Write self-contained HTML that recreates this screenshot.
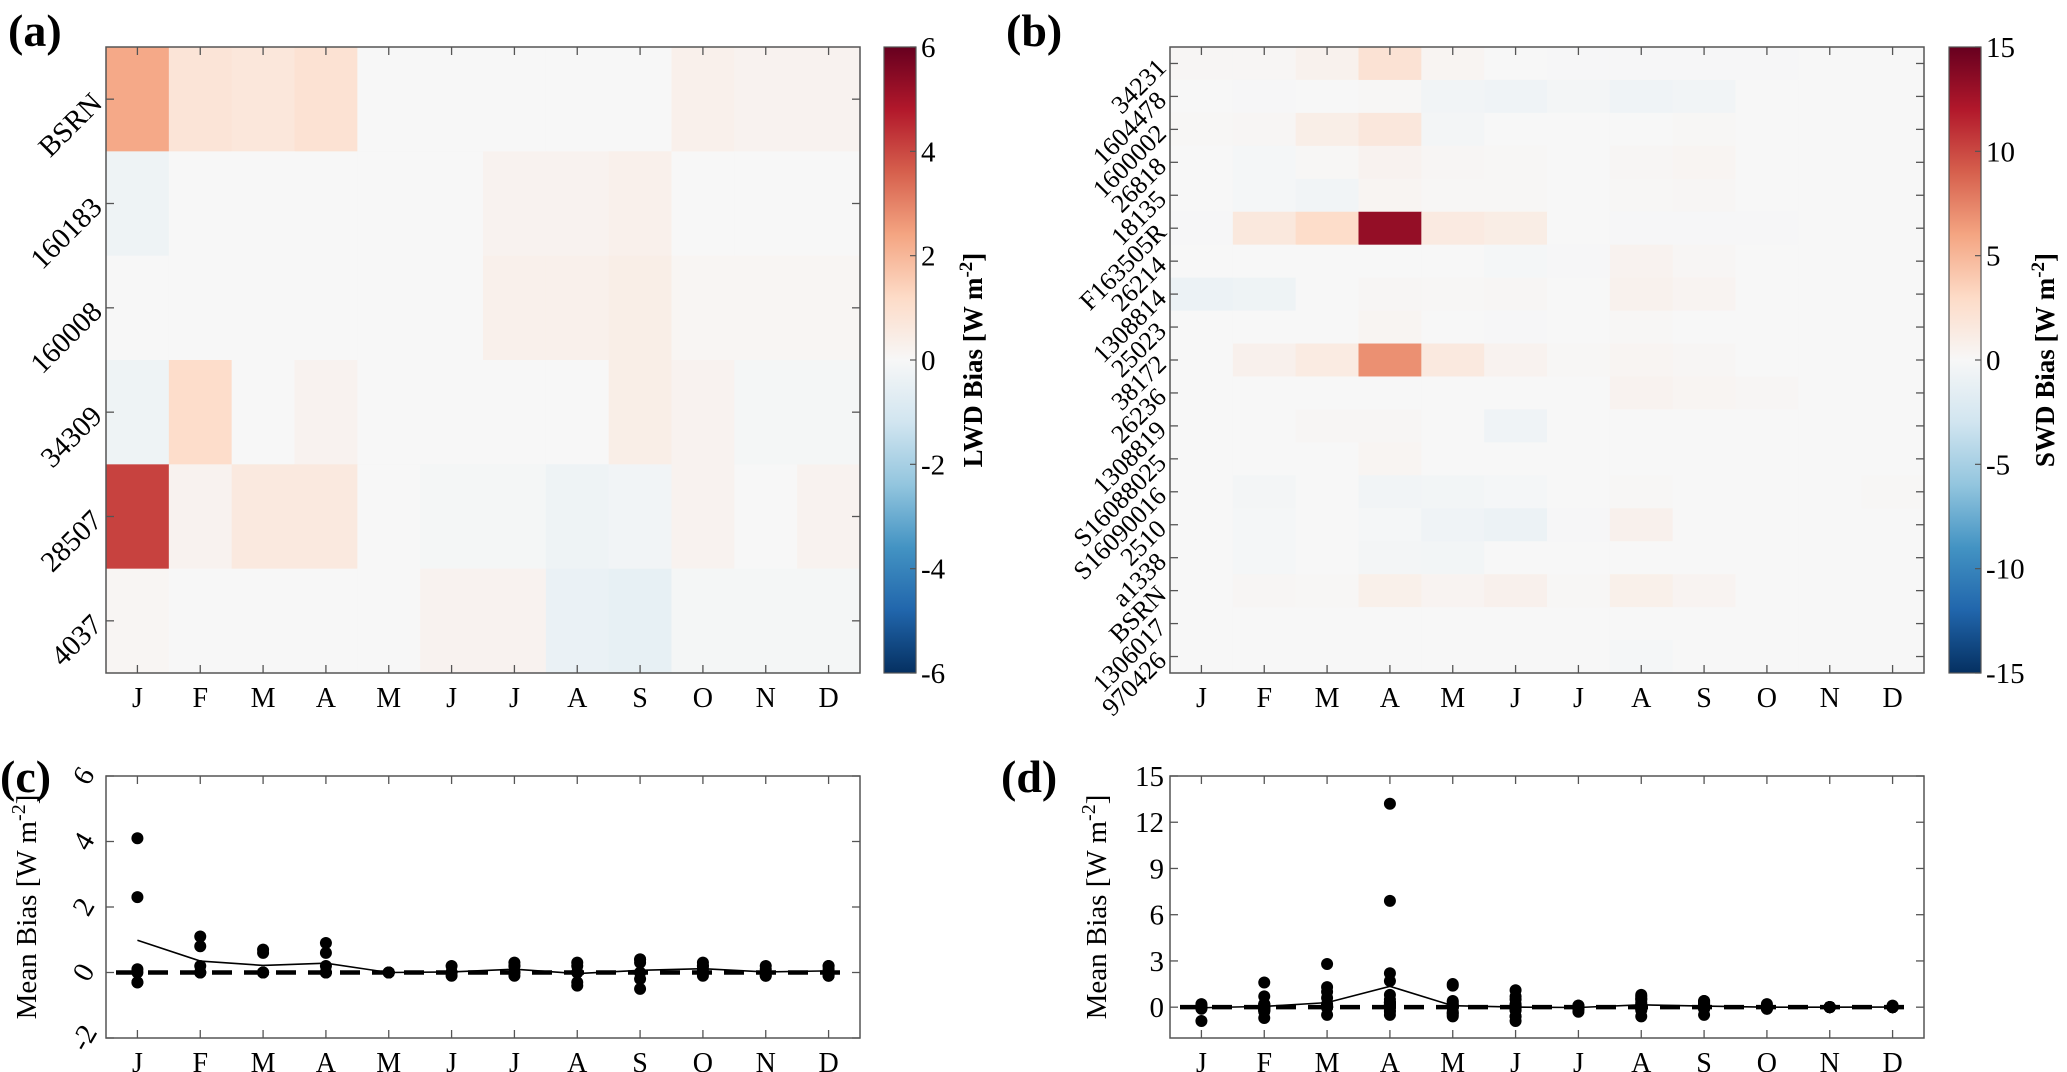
<!DOCTYPE html>
<html><head><meta charset="utf-8">
<style>
html,body{margin:0;padding:0;background:#fff;}
svg{display:block;}
svg text{font-family:"Liberation Serif","Times New Roman","DejaVu Serif",serif;}
</style></head>
<body>
<svg id="fig" width="2067" height="1072" viewBox="0 0 2067 1072" xmlns="http://www.w3.org/2000/svg" font-family="Liberation Serif, serif">
<defs>
<linearGradient id="cbgrad" x1="0" y1="1" x2="0" y2="0">
<stop offset="0" stop-color="#053061"/><stop offset="0.1" stop-color="#2166ac"/><stop offset="0.2" stop-color="#4393c3"/><stop offset="0.3" stop-color="#92c5de"/><stop offset="0.4" stop-color="#d1e5f0"/><stop offset="0.5" stop-color="#f7f7f7"/><stop offset="0.6" stop-color="#fddbc7"/><stop offset="0.7" stop-color="#f4a582"/><stop offset="0.8" stop-color="#d6604d"/><stop offset="0.9" stop-color="#b2182b"/><stop offset="1" stop-color="#67001f"/>
</linearGradient>
</defs>
</svg>
<script>
// ---- data ----
const months = ["J","F","M","A","M","J","J","A","S","O","N","D"];
const lwdStations = ["BSRN","160183","160008","34309","28507","4037"];
const lwdBias = [
 [2.3,0.8,0.7,0.9,0,0,0,0,0,0.3,0.2,0.2],
 [-0.3,0,0,0,0,0,0.2,0.2,0.3,0,0,0],
 [0,0,0,0,0,0,0.3,0.3,0.4,0.1,0.1,0.1],
 [-0.3,1.1,0,0.2,0,0,0,0,0.4,0.2,-0.1,-0.1],
 [4.1,0.2,0.6,0.6,0,-0.1,-0.1,-0.3,-0.2,0.2,0,0.2],
 [0.1,0,0,0,0,0.2,0.2,-0.4,-0.5,-0.1,-0.1,-0.1]
];
const swdStations = ["34231","1604478","1600002","26818","18135","F163505R","26214","1308814","25023","38172","26236","1308819","S16088025","S16090016","2510","a1338","BSRN","1306017","970426"];
const swdBias = [
 [0.2,0.2,0.6,2.2,0.3,0,-0.1,-0.1,-0.1,-0.1,0,0],
 [0,-0.1,0,0.1,-0.5,-0.6,-0.3,-0.6,-0.5,0,0,0],
 [0.1,0.2,1.0,1.7,-0.3,0,0,0,0.1,0,0,0],
 [0,-0.2,0.1,0.5,0.2,0.1,0,0.2,0.3,0,0,0],
 [0,-0.2,-0.5,0.3,0.1,0.1,0,0.1,0.2,0,0,0],
 [-0.1,1.6,2.8,13.2,1.4,1.1,0,-0.1,-0.1,-0.1,0,0],
 [0,0,0,0,0,-0.2,-0.1,0.5,0.2,0,0,0],
 [-0.9,-0.7,0,0.2,0.1,0.2,0,0.6,0.4,0,0,0],
 [0,0,0,0.3,0,-0.1,0,0.1,0,0,0,0],
 [0,0.7,1.3,6.9,1.5,0.5,0.1,0.3,0.2,0,0,0],
 [0,0,0,0,0,0,0,0.5,0.3,0.2,0,0],
 [0,0,0.2,0.2,0,-0.6,0,0,0,0,0,0],
 [0,0,0,0.3,0,0,0,0,0,0,0,0],
 [0,-0.3,0,-0.5,-0.4,-0.2,0,0.1,0,0,0,0.1],
 [0,-0.2,0,-0.2,-0.6,-0.9,-0.1,0.7,0,0,0,0],
 [0,-0.2,0,-0.3,-0.4,0,0,0,0,0,0,0],
 [0,0.2,0.1,0.8,0.4,0.7,0.1,0.8,0.4,0,0,0],
 [0,0,0,0,0,0,0,0,0,0,0,0],
 [0,0,0,0,0,0,0,-0.2,0,0,0,0]
];
const lwdCbTicks = [-6,-4,-2,0,2,4,6];
const swdCbTicks = [-15,-10,-5,0,5,10,15];
const cTicks = [-2,0,2,4,6];
const dTicks = [0,3,6,9,12,15];

// ---- helpers ----
const NS="http://www.w3.org/2000/svg";
const svg=document.getElementById('fig');
const FONT='"Liberation Serif","Times New Roman","DejaVu Serif",serif';
function mk(tag,attrs,parent,text){const e=document.createElementNS(NS,tag);for(const k in attrs)e.setAttribute(k,attrs[k]);if(tag==='text')e.style.fontFamily=FONT;if(text!==undefined)e.textContent=text;(parent||svg).appendChild(e);return e;}
const ramp=["#053061","#2166ac","#4393c3","#92c5de","#d1e5f0","#f7f7f7","#fddbc7","#f4a582","#d6604d","#b2182b","#67001f"];
function hex(h){return [parseInt(h.substr(1,2),16),parseInt(h.substr(3,2),16),parseInt(h.substr(5,2),16)];}
function cmap(v,max){let t=(v+max)/(2*max);t=Math.max(0,Math.min(1,t))*10;const i=Math.min(9,Math.floor(t));const f=t-i;const a=hex(ramp[i]),b=hex(ramp[i+1]);return `rgb(${a.map((x,k)=>Math.round(x+(b[k]-x)*f)).join(',')})`;}

function panelLabel(txt,x,y,name){const t=mk('text',{x:x,y:y,'font-size':46,'font-weight':'bold'},svg,txt);}

function heatmap(opt){
 const g=mk('g',{});
 
 
 const L=opt.L,R=opt.R,T=47,B=673;
 const nr=opt.rows.length,nc=months.length;
 const cw=(R-L)/nc,rh=(B-T)/nr;
 const xs=c=>L+c*cw, ys=r=>T+r*rh;
 opt.data.forEach((row,r)=>row.forEach((v,c)=>{
  const cell=mk('rect',{x:xs(c),y:ys(r),width:cw+0.5,height:rh+0.5,fill:cmap(v,opt.max)},g);
  
  
 }));
 mk('rect',{x:L,y:T,width:R-L,height:B-T,fill:'none',stroke:'#555','stroke-width':1.5},g);
 months.forEach((m,c)=>{const x=xs(c)+cw/2;
  mk('line',{x1:x,y1:B,x2:x,y2:B-8,stroke:'#555','stroke-width':1.3},g);
  mk('line',{x1:x,y1:T,x2:x,y2:T+8,stroke:'#555','stroke-width':1.3},g);
  const t=mk('text',{x:x,y:B+34,'font-size':28,'text-anchor':'middle'},g,m);
  
  
 });
 opt.rows.forEach((s,r)=>{const y=ys(r)+rh/2;
  mk('line',{x1:L,y1:y,x2:L+8,y2:y,stroke:'#555','stroke-width':1.3},g);
  mk('line',{x1:R,y1:y,x2:R-8,y2:y,stroke:'#555','stroke-width':1.3},g);
  const t=mk('text',{x:L-8,y:y+8,'font-size':opt.fs,'text-anchor':'end',transform:`rotate(-45 ${L-8} ${y})`},g,s);
  
  
 });
 const cx=opt.cbx,cwid=32;
 const cb=mk('rect',{x:cx,y:T,width:cwid,height:B-T,fill:'url(#cbgrad)',stroke:'#555','stroke-width':1.2},g);
 
 
 opt.cbTicks.forEach(v=>{const y=B-(v+opt.max)/(2*opt.max)*(B-T);
  mk('line',{x1:cx+cwid-6,y1:y,x2:cx+cwid,y2:y,stroke:'#555','stroke-width':1.2},g);
  const t=mk('text',{x:cx+cwid+5,y:y+10,'font-size':29},g,String(v));
  
  
 });
 const lx=opt.cblx,ly=(T+B)/2;
 const lab=mk('text',{x:lx,y:ly,'font-size':27,'font-weight':'bold','text-anchor':'middle',transform:`rotate(-90 ${lx} ${ly})`},g);
 
 
 mk('tspan',{},lab,opt.title+' Bias [W m');
 mk('tspan',{dy:-10,'font-size':19},lab,'-2');
 mk('tspan',{dy:10},lab,']');
}

function scatter(opt){
 const g=mk('g',{});
 
 
 const L=opt.L,R=opt.R,T=776,B=1038;
 const cw=(R-L)/12;
 const xs=c=>L+c*cw+cw/2;
 const ys=v=>B-(v-opt.ymin)/(opt.ymax-opt.ymin)*(B-T);
 mk('rect',{x:L,y:T,width:R-L,height:B-T,fill:'#fff',stroke:'#555','stroke-width':1.5},g);
 months.forEach((m,c)=>{const x=xs(c);
  mk('line',{x1:x,y1:B,x2:x,y2:B-8,stroke:'#555','stroke-width':1.3},g);
  mk('line',{x1:x,y1:T,x2:x,y2:T+8,stroke:'#555','stroke-width':1.3},g);
  const t=mk('text',{x:x,y:B+34,'font-size':28,'text-anchor':'middle'},g,m);
  
  
 });
 opt.ticks.forEach(v=>{const y=ys(v);
  mk('line',{x1:L,y1:y,x2:L+8,y2:y,stroke:'#555','stroke-width':1.3},g);
  mk('line',{x1:R,y1:y,x2:R-8,y2:y,stroke:'#555','stroke-width':1.3},g);
  const attrs={x:L-6,y:y+10,'font-size':29,'text-anchor':'end'};
  if(opt.rotTicks){attrs.y=y;attrs['text-anchor']='middle';attrs.x=L-22;attrs.transform=`rotate(-60 ${L-22} ${y})`;attrs['dominant-baseline']='central';}
  const t=mk('text',attrs,g,String(v));
  
  
 });
 const z=mk('line',{x1:L+10,y1:ys(0),x2:R-10,y2:ys(0),stroke:'#000','stroke-width':4.5,'stroke-dasharray':'20 12'},g);
 
 
 const means=months.map((m,c)=>opt.data.reduce((s,r)=>s+r[c],0)/opt.data.length);
 const ml=mk('polyline',{points:means.map((v,c)=>xs(c)+','+ys(v)).join(' '),fill:'none',stroke:'#000','stroke-width':1.6},g);
 
 
 opt.data.forEach(row=>row.forEach((v,c)=>{
  const d=mk('circle',{cx:xs(c),cy:ys(v),r:6,fill:'#000'},g);
  
  
 }));
 const lx=opt.ylx,ly=(T+B)/2;
 const lab=mk('text',{x:lx,y:ly,'font-size':29,'text-anchor':'middle',transform:`rotate(-90 ${lx} ${ly})`},g);
 
 
 mk('tspan',{},lab,'Mean Bias [W m');
 mk('tspan',{dy:-11,'font-size':20},lab,'-2');
 mk('tspan',{dy:11},lab,']');
}

panelLabel('(a)',8,46,'panel-label-a');
panelLabel('(b)',1006,46,'panel-label-b');
panelLabel('(c)',0,792,'panel-label-c');
panelLabel('(d)',1001,792,'panel-label-d');

heatmap({name:'lwd-heatmap',L:106,R:860,rows:lwdStations,data:lwdBias,max:6,cbTicks:lwdCbTicks,cbx:884,cblx:982,title:'LWD',fs:29});
heatmap({name:'swd-heatmap',L:1170,R:1924,rows:swdStations,data:swdBias,max:15,cbTicks:swdCbTicks,cbx:1949,cblx:2054,title:'SWD',fs:26});
scatter({name:'lwd-mean-bias-plot',L:106,R:860,data:lwdBias,ymin:-2,ymax:6,ticks:cTicks,ylx:36,rotTicks:true});
scatter({name:'swd-mean-bias-plot',L:1170,R:1924,data:swdBias,ymin:-2,ymax:15,ticks:dTicks,ylx:1106,rotTicks:false});
</script>
</body></html>
